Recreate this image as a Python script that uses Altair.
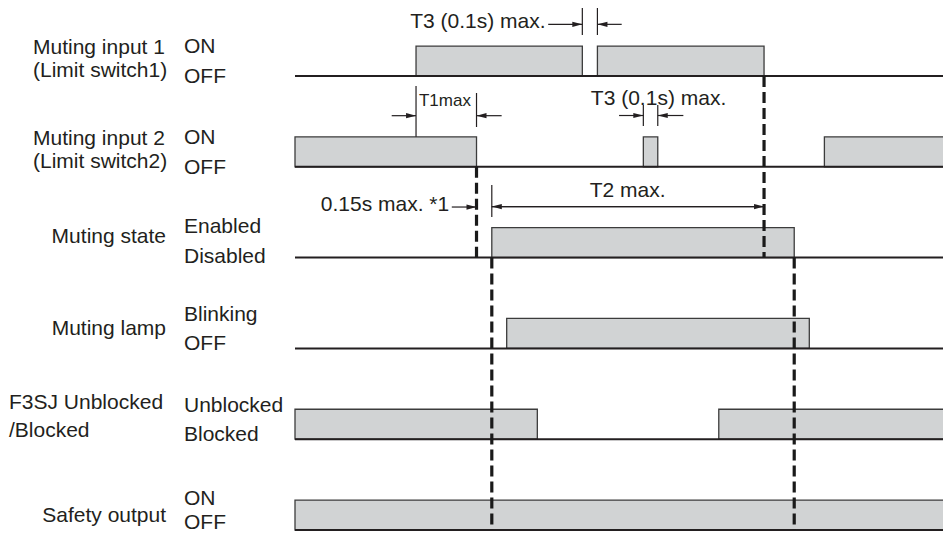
import altair as alt
import pandas as pd

# ---------------- data (time in arbitrary units: 0 = start of traces, 100 = right edge;
# rows: 0..5 from top, level "high" drawn above the row baseline) ----------------
row_ids = [0, 1, 2, 3, 4, 5]

pulse_row = [0, 0, 1, 1, 1, 2, 3, 4, 4, 5]
pulse_start = [18.45, 46.1, 0.0, 53.1, 80.7, 30.0, 32.27, 0.0, 64.6, 0.0]
pulse_end = [43.8, 71.5, 27.67, 55.3, 100.0, 76.1, 78.4, 36.94, 100.0, 100.0]

dash_t = [27.67, 30.0, 71.5, 76.1]
dash_from = [1, 2, 0, 2]
dash_to = [2, 5, 2, 5]

name_left_text = ["Muting input 1", "(Limit switch1)", "Muting input 2", "(Limit switch2)",
                  "F3SJ Unblocked", "/Blocked"]
name_left_t = [-39.94, -39.94, -39.94, -39.94, -43.6, -43.6]
name_left_r = [-0.242, 0.011, 0.760, 1.013, 3.667, 3.976]

name_right_text = ["Muting state", "Muting lamp", "Safety output"]
name_right_t = [-19.66, -19.66, -19.66]
name_right_r = [1.839, 2.852, 4.912]

state_text = ["ON", "OFF", "ON", "OFF", "Enabled", "Disabled", "Blinking", "OFF",
              "Unblocked", "Blocked", "ON", "OFF"]
state_t = [-16.92] * 12
state_r = [-0.253, 0.077, 0.749, 1.079, 1.729, 2.060, 2.698, 3.018, 3.700, 4.019, 4.720, 4.989]

ann_text = ["T3 (0.1s) max.", "T1max", "T3 (0.1s) max.", "0.15s max. *1", "T2 max."]
ann_t = [38.2, 18.9, 45.1, 23.5, 50.7]
ann_r = [-0.5286, 0.330, 0.319, 1.487, 1.336]
ann_align = ["right", "left", "left", "right", "center"]
ann_size = [21, 17, 21, 21, 21]

ext_t = [43.8, 46.1, 18.45, 27.67, 53.1, 55.3, 30.0]
ext_r1 = [-0.749, -0.749, 0.110, 0.187, 0.319, 0.319, 1.200]
ext_r2 = [-0.4515, -0.4515, 0.670, 0.5617, 0.551, 0.551, 1.553]

arrow_tail = [38.6, 49.8, 14.74, 31.5, 49.4, 59.2, 23.9, 30.0, 71.5]
arrow_head = [43.8, 46.1, 18.45, 27.67, 53.1, 55.3, 27.67, 71.5, 30.0]
arrow_r = [-0.569, -0.569, 0.437, 0.437, 0.435, 0.435, 1.443, 1.438, 1.438]

# ---------------- styling ----------------
HIGH = 0.33
INK = "#231f20"
FONT = "Liberation Sans"

xs = alt.Scale(domain=[-43.75, 98.78], nice=False, zero=False)
ys = alt.Scale(domain=[-0.749, 5.022], nice=False, zero=False, reverse=True)


def X(f):
    return alt.X(f, type="quantitative", scale=xs, axis=None)


def Y(f):
    return alt.Y(f, type="quantitative", scale=ys, axis=None)


pulses = pd.DataFrame({"row": pulse_row, "t0": pulse_start, "t1": pulse_end})
pulses["top"] = pulses["row"] - HIGH

base = pd.DataFrame({"row": row_ids, "t0": 0.0, "t1": 100.0})
dashes = pd.DataFrame({"t": dash_t, "r1": dash_from, "r2": dash_to})
exts = pd.DataFrame({"t": ext_t, "r1": ext_r1, "r2": ext_r2})
arrows = pd.DataFrame({"tail": arrow_tail, "head": arrow_head, "r": arrow_r})
arrows["dir"] = ["right" if h > t else "left" for t, h in zip(arrows["tail"], arrows["head"])]

layers = []
layers.append(alt.Chart(pulses).mark_rect(fill="#d1d3d4", stroke="#3c3c3c", strokeWidth=1.3).encode(
    x=X("t0"), x2="t1", y=Y("top"), y2="row"))
layers.append(alt.Chart(base).mark_rule(color=INK, strokeWidth=2).encode(
    x=X("t0"), x2="t1", y=Y("row")))
layers.append(alt.Chart(dashes).mark_rule(color="#1a1a1a", strokeWidth=3.2, strokeDash=[11, 5]).encode(
    x=X("t"), y=Y("r1"), y2="r2"))
layers.append(alt.Chart(exts).mark_rule(color=INK, strokeWidth=1.2).encode(
    x=X("t"), y=Y("r1"), y2="r2"))
layers.append(alt.Chart(arrows).mark_rule(color=INK, strokeWidth=1.2).encode(
    x=X("tail"), x2="head", y=Y("r")))
for d, path in [("right", "M0,0L-1,-0.26L-1,0.26Z"), ("left", "M0,0L1,-0.26L1,0.26Z")]:
    layers.append(alt.Chart(arrows[arrows["dir"] == d]).mark_point(
        shape=path, size=400, filled=True, fill=INK, strokeWidth=0, opacity=1).encode(
        x=X("head"), y=Y("r")))

nl = pd.DataFrame({"txt": name_left_text, "t": name_left_t, "r": name_left_r})
nr = pd.DataFrame({"txt": name_right_text, "t": name_right_t, "r": name_right_r})
st = pd.DataFrame({"txt": state_text, "t": state_t, "r": state_r})
for df, al in [(nl, "left"), (nr, "right"), (st, "left")]:
    layers.append(alt.Chart(df).mark_text(align=al, baseline="alphabetic", font=FONT,
                                          fontSize=21, color=INK).encode(
        x=X("t"), y=Y("r"), text="txt:N"))

ann = pd.DataFrame({"txt": ann_text, "t": ann_t, "r": ann_r})
for i in range(len(ann)):
    layers.append(alt.Chart(ann.iloc[[i]]).mark_text(
        align=ann_align[i], baseline="alphabetic", font=FONT, fontSize=ann_size[i], color=INK).encode(
        x=X("t"), y=Y("r"), text="txt:N"))

chart = alt.layer(*layers).properties(
    width=935, height=524, padding=0, autosize=alt.AutoSizeParams(type="none")
).configure_view(stroke=None)

chart.save("out.html", embed_options={"renderer": "svg", "actions": False})
